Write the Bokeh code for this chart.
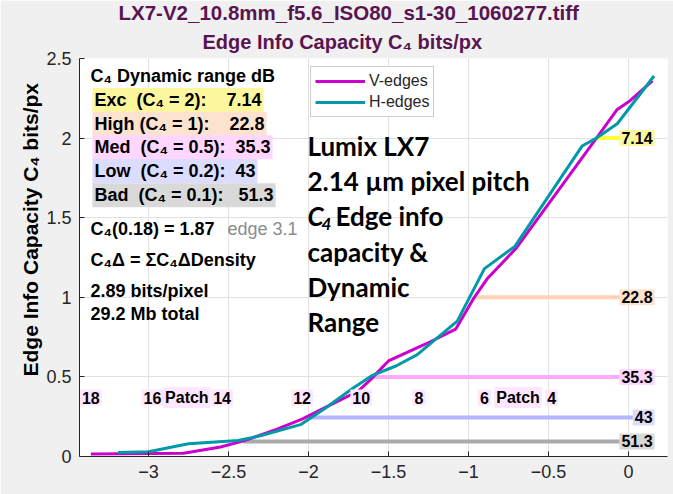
from bokeh.plotting import figure
from bokeh.models import Range1d, Title, Legend, LegendItem
from bokeh.core.properties import value
from bokeh.embed import file_html
from bokeh.resources import INLINE

# log exposure (x) vs edge info capacity C4 (bits/px)
v_x = [-3.36, -2.78, -2.55, -2.40, -2.20, -2.04, -1.85, -1.69, -1.62, -1.50, -1.26, -1.08,
       -0.97, -0.88, -0.70, -0.20, -0.07, 0.01, 0.15]
v_y = [0.015, 0.02, 0.06, 0.10, 0.17, 0.235, 0.33, 0.41, 0.475, 0.60, 0.71, 0.80,
       0.99, 1.12, 1.31, 2.00, 2.18, 2.235, 2.36]
h_x = [-3.19, -3.00, -2.75, -2.44, -2.30, -2.05, -1.90, -1.72, -1.60, -1.45, -1.32, -1.07,
       -0.90, -0.71, -0.29, -0.20, -0.07, 0.16]
h_y = [0.025, 0.03, 0.08, 0.10, 0.13, 0.20, 0.30, 0.43, 0.51, 0.57, 0.64, 0.85,
       1.18, 1.32, 1.95, 2.00, 2.09, 2.39]

# dynamic range markers
dr_level = [2.0, 1.0, 0.5, 0.245, 0.095]
dr_start = [-0.20, -0.97, -1.60, -2.00, -2.41]
dr_db = ["7.14", "22.8", "35.3", "43", "51.3"]
dr_line_col = ["#ffff33", "#ffd3b5", "#ffaaff", "#b4b4ff", "#aaaaaa"]
dr_box_col = ["#fcf79c", "#fde2d0", "#ffd6ff", "#dcdcff", "#d9d9d9"]

# patch labels along the curve
patch_x = [-3.36, -2.975, -2.76, -2.54, -2.04, -1.67, -1.31, -0.90, -0.69, -0.48]
patch_txt = ["18", "16", "Patch", "14", "12", "10", "8", "6", "Patch", "4"]

# summary box
dr_rows = ["Exc\u00a0\u00a0(C\u2084 = 2):\u00a0\u00a0\u00a0\u00a07.14",
           "High (C\u2084 = 1):\u00a0\u00a0\u00a0\u00a022.8",
           "Med\u00a0\u00a0(C\u2084 = 0.5):\u00a0\u00a035.3",
           "Low\u00a0\u00a0(C\u2084 = 0.2):\u00a0\u00a043",
           "Bad\u00a0\u00a0(C\u2084 = 0.1):\u00a0\u00a0\u00a051.3"]
info_rows = ["C\u2084(0.18) = 1.87", "C\u2084\u0394 = \u03a3C\u2084\u0394Density",
             "2.89 bits/pixel", "29.2 Mb total"]
note_rows = ["Lumix LX7", "2.14 \u00b5m pixel pitch", "", "capacity &", "Dynamic", "Range"]

x_ticks = [-3, -2.5, -2, -1.5, -1, -0.5, 0]
y_ticks = [0, 0.5, 1, 1.5, 2, 2.5]

FONT = "Liberation Sans"
DARK = "#262626"


def py(pix):
    # image pixel row -> data y
    return (456 - pix) / 160.4


def px(pix):
    # image pixel column -> data x
    return -3 + (pix - 148) / 160.0


p = figure(width=673, height=494, x_range=Range1d(-3.431, 0.244), y_range=Range1d(0, 2.5),
           output_backend="svg", toolbar_location=None, title=None,
           min_border_left=79, min_border_right=6, min_border_top=55, min_border_bottom=38)
p.background_fill_color = "white"
p.border_fill_color = "#f0f0f0"
p.outline_line_color = None

sub = Title(text="Edge Info Capacity C\u2084 bits/px", align="left", offset=123,
            text_font=FONT, text_font_size="20px", text_font_style="bold",
            text_color="#5a1450", standoff=12)
p.add_layout(sub, "above")
top = Title(text="LX7-V2_10.8mm_f5.6_ISO80_s1-30_1060277.tiff", align="left", offset=39,
            text_font=FONT, text_font_size="20.5px", text_font_style="bold",
            text_color="#5a1450", standoff=-3)
p.add_layout(top, "above")

ylab = Title(text="Edge Info Capacity C\u2084 bits/px", align="left", offset=80,
             text_font=FONT, text_font_size="21px", text_font_style="bold",
             text_color="black", standoff=4)
p.add_layout(ylab, "left")

for ax in (p.xaxis, p.yaxis):
    ax.major_tick_in = 5
    ax.major_tick_out = 0
    ax.minor_tick_line_color = None
    ax.axis_line_color = DARK
    ax.major_tick_line_color = DARK
    ax.major_label_text_font = FONT
    ax.major_label_text_font_size = "18px"
    ax.major_label_text_color = DARK
    ax.major_label_standoff = 8
p.xaxis.ticker = x_ticks
p.yaxis.ticker = y_ticks
p.grid.grid_line_color = "#e1e1e1"

# dynamic range lines and labels
for i in range(len(dr_level)):
    p.line([dr_start[i], 0.10], [dr_level[i], dr_level[i]], line_color=dr_line_col[i], line_width=4)

v = p.line(v_x, v_y, line_color="#cc00cc", line_width=3)
h = p.line(h_x, h_y, line_color="#0099aa", line_width=3)

p.text(x=[0.163] * len(dr_level), y=dr_level, text=dr_db, text_align="right", text_baseline="middle",
       text_font=value(FONT), text_font_size="16px", text_font_style="bold", text_color="black",
       background_fill_color=dr_box_col, padding=2)

p.text(x=patch_x, y=[0.37] * len(patch_x), text=patch_txt, text_align="center", text_baseline="middle",
       text_font=value(FONT), text_font_size="16px", text_font_style="bold", text_color="black",
       background_fill_color="#ffe6ff", padding=2)

# summary box (upper left)
p.text(x=[px(90)], y=[py(72.7)], text=["C\u2084 Dynamic range dB"], text_baseline="middle",
       text_font=value(FONT), text_font_size="18px", text_font_style="bold", text_color="black")
p.text(x=[px(92)] * len(dr_rows), y=[py(96.7), py(120.7), py(144.3), py(168.3), py(192.7)],
       text=dr_rows, text_baseline="middle", text_font=value(FONT), text_font_size="18px",
       text_font_style="bold", text_color="black", background_fill_color=dr_box_col, padding=2)
p.text(x=[px(90)] * len(info_rows), y=[py(226.7), py(258), py(289), py(312)], text=info_rows,
       text_baseline="middle", text_font=value(FONT), text_font_size="18px",
       text_font_style="bold", text_color="black")
p.text(x=[px(227)], y=[py(226.7)], text=["edge 3.1"], text_baseline="middle",
       text_font=value(FONT), text_font_size="18px", text_color="#8c8c8c")

# camera note
p.text(x=[px(307)] * len(note_rows), y=[py(143 + 35.5 * k) for k in range(len(note_rows))],
       text=note_rows, text_baseline="middle", text_font=value("Lato"), text_font_size="26px",
       text_font_style="bold", text_color="black")
p.text(x=[px(307)], y=[py(214)], text=["C"], text_baseline="middle", text_font=value("Lato"),
       text_font_size="26px", text_font_style="bold italic", text_color="black")
p.text(x=[px(321)], y=[py(222)], text=["4"], text_baseline="middle", text_font=value("Lato"),
       text_font_size="17px", text_font_style="bold italic", text_color="black")
p.text(x=[px(335)], y=[py(214)], text=["Edge info"], text_baseline="middle", text_font=value("Lato"),
       text_font_size="26px", text_font_style="bold", text_color="black")

legend = Legend(items=[LegendItem(label="V-edges", renderers=[v]),
                       LegendItem(label="H-edges", renderers=[h])],
                location=(231, 339), glyph_width=50, glyph_height=20, label_height=20,
                label_standoff=4, padding=4, spacing=1, margin=0,
                label_text_font=FONT, label_text_font_size="16px", label_text_color=DARK,
                border_line_color="#9a9a9a", background_fill_color="white", background_fill_alpha=1)
p.add_layout(legend, "center")

open("out.html", "w").write(file_html(p, INLINE))
